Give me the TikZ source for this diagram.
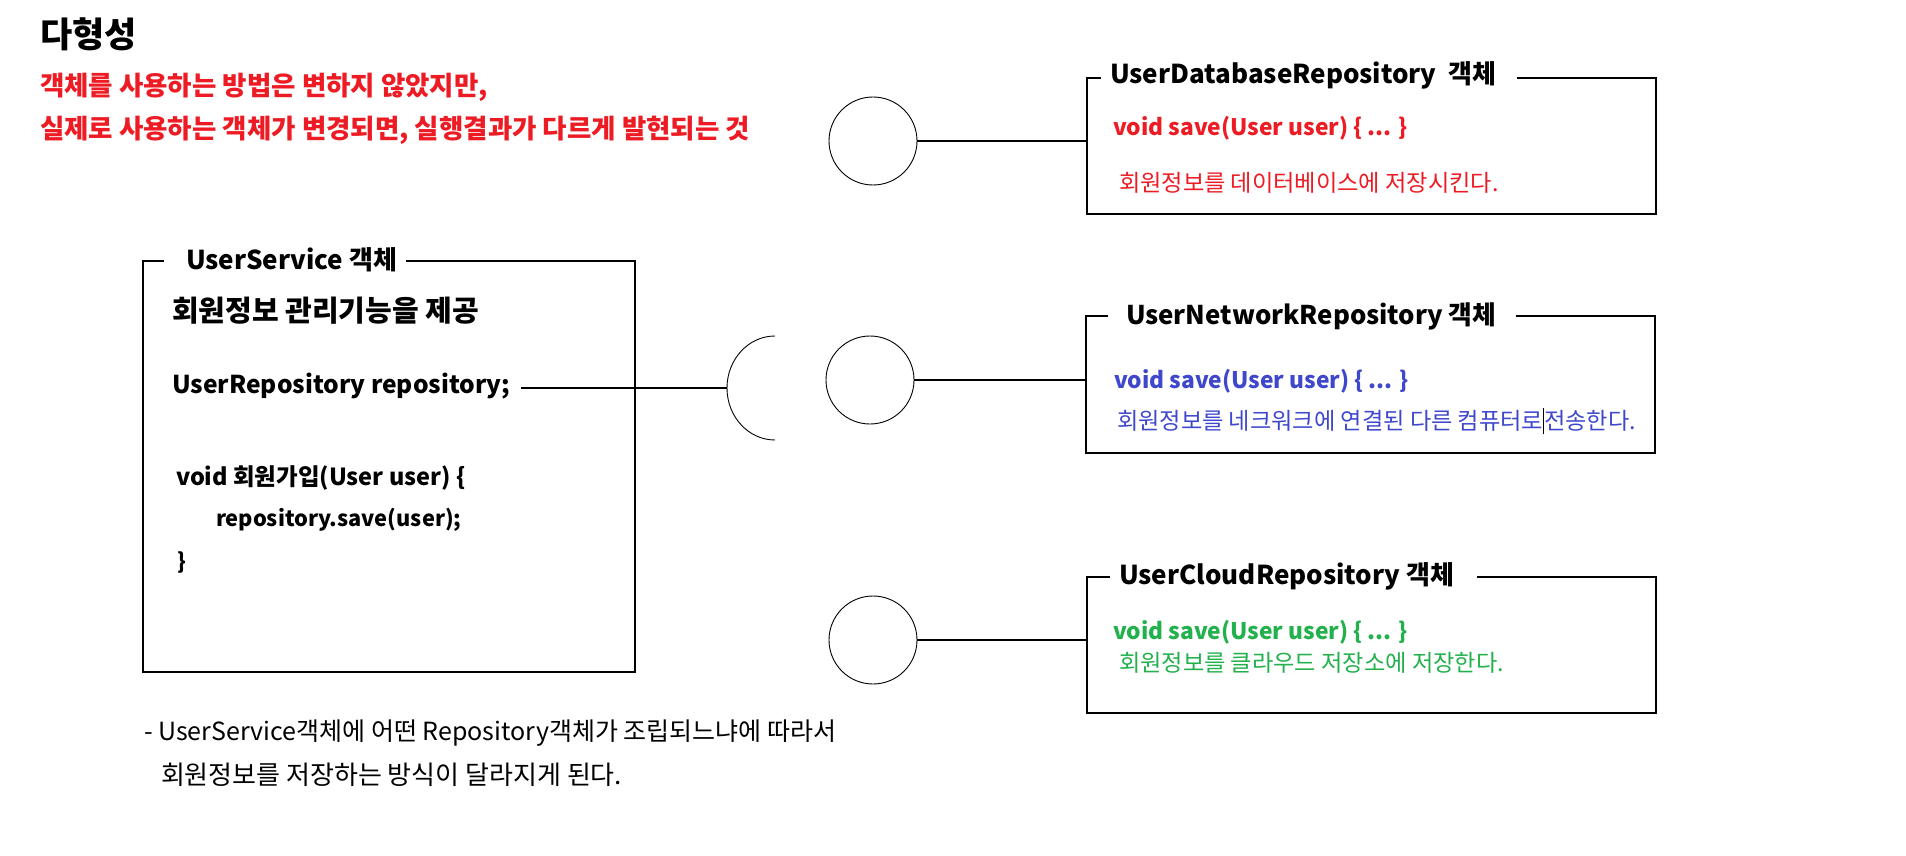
\documentclass[tikz,border=0pt]{standalone}
\usepackage{fontspec}
\setmainfont{Noto Sans CJK KR}
\usetikzlibrary{calc}
\definecolor{pred}{RGB}{237,28,36}
\definecolor{pblue}{RGB}{63,72,204}
\definecolor{pgreen}{RGB}{34,177,76}
\newcommand{\fsz}[1]{\fontsize{#1pt}{#1pt}\selectfont}
\tikzset{
  txt/.style={anchor=west, inner sep=0pt, outer sep=0pt},
  boxtitle/.style={txt, font=\bfseries\fsz{26}},
  code/.style={txt, font=\bfseries\fsz{22}},
  sig/.style={txt, font=\bfseries\fsz{22.8}},
  desc/.style={txt, font=\fsz{23.2}},
  boxarea/.style={anchor=north west, inner sep=0pt, outer sep=0pt, draw=none},
  boxline/.style={line width=1.2pt},
  wire/.style={line width=1.2pt},
  port/.style={circle, draw, line width=0.9pt, minimum size=88pt, inner sep=0pt},
}
\begin{document}
\begin{tikzpicture}[x=1pt, y=-1pt]
\fill[white] (0,0) rectangle (1906,856);
\useasboundingbox (0,0) rectangle (1906,856);

% heading
\node[txt, font=\bfseries\fsz{35}] (title) at (40,34) {다형성};
\node[txt, font=\bfseries\fsz{26.5}, text=pred] (def1) at (40,87) {객체를 사용하는 방법은 변하지 않았지만,};
\node[txt, font=\bfseries\fsz{26.5}, text=pred] (def2) at (40,130) {실제로 사용하는 객체가 변경되면, 실행결과가 다르게 발현되는 것};

% UserService box
\node[boxarea, minimum width=492pt, minimum height=411pt] (svc) at (143,261) {};
\draw[boxline] ([xshift=21pt]svc.north west) -- (svc.north west) -- (svc.south west) -- (svc.south east) -- (svc.north east) -- ([xshift=-229pt]svc.north east);
\node[boxtitle] (svct) at (186,260) {UserService 객체};
\node[txt, font=\bfseries\fsz{29}] (svcd) at (172,311) {회원정보 관리기능을 제공};
\node[code, font=\bfseries\fsz{24.6}] (repo) at (172,386) {UserRepository repository;};
\node[code, font=\bfseries\fsz{23.5}] (join) at (176,478) {void 회원가입(User user) \{};
\node[code, font=\bfseries\fsz{21.8}] (call) at (216,520) {repository.save(user);};
\node[code] (close) at (177,562) {\}};

% socket
\coordinate (sockc) at (775,388);
\coordinate (sock) at (727,388);
\draw[wire] ([xshift=11pt]repo.east |- sock) -- (sock);
\draw[line width=0.9pt] (sockc) ++(0,-52) arc[start angle=90, end angle=270, x radius=48pt, y radius=52pt];

% Database repository
\node[boxarea, minimum width=569pt, minimum height=136pt] (db) at (1087,78) {};
\draw[boxline] ([xshift=14pt]db.north west) -- (db.north west) -- (db.south west) -- (db.south east) -- (db.north east) -- ([xshift=-139pt]db.north east);
\node[boxtitle] (dbt) at (1110,75) {UserDatabaseRepository~~객체};
\node[sig, text=pred] (dbs) at (1113,128) {void save(User user) \{ ... \}};
\node[desc, text=pred] (dbd) at (1119,183) {회원정보를 데이터베이스에 저장시킨다.};
\node[port] (c1) at (873,141) {};
\draw[wire] (c1.east) -- (c1.east -| db.west);

% Network repository
\node[boxarea, minimum width=569pt, minimum height=137pt] (net) at (1086,316) {};
\draw[boxline] ([xshift=22pt]net.north west) -- (net.north west) -- (net.south west) -- (net.south east) -- (net.north east) -- ([xshift=-139pt]net.north east);
\node[boxtitle, font=\bfseries\fsz{25.8}] (nett) at (1126,316) {UserNetworkRepository 객체};
\node[sig, text=pblue] (nets) at (1114,381) {void save(User user) \{ ... \}};
\node[desc, text=pblue] (netd) at (1117,421) {회원정보를 네크워크에 연결된 다른 컴퓨터로{\color{black}\rule[-0.2em]{0.7pt}{1.15em}}전송한다.};
\node[port] (c2) at (870,380) {};
\draw[wire] (c2.east) -- (c2.east -| net.west);

% Cloud repository
\node[boxarea, minimum width=569pt, minimum height=136pt] (cl) at (1087,577) {};
\draw[boxline] ([xshift=23pt]cl.north west) -- (cl.north west) -- (cl.south west) -- (cl.south east) -- (cl.north east) -- ([xshift=-179pt]cl.north east);
\node[boxtitle] (clt) at (1119,576) {UserCloudRepository 객체};
\node[sig, text=pgreen] (cls) at (1113,632) {void save(User user) \{ ... \}};
\node[desc, text=pgreen] (cld) at (1119,663) {회원정보를 클라우드 저장소에 저장한다.};
\node[port] (c3) at (873,640) {};
\draw[wire] (c3.east) -- (c3.east -| cl.west);

% note
\node[txt, font=\fsz{25}] (note1) at (144,733) {- UserService객체에 어떤 Repository객체가 조립되느냐에 따라서};
\node[txt, font=\fsz{26}] (note2) at (161,775) {회원정보를 저장하는 방식이 달라지게 된다.};
\end{tikzpicture}
\end{document}
